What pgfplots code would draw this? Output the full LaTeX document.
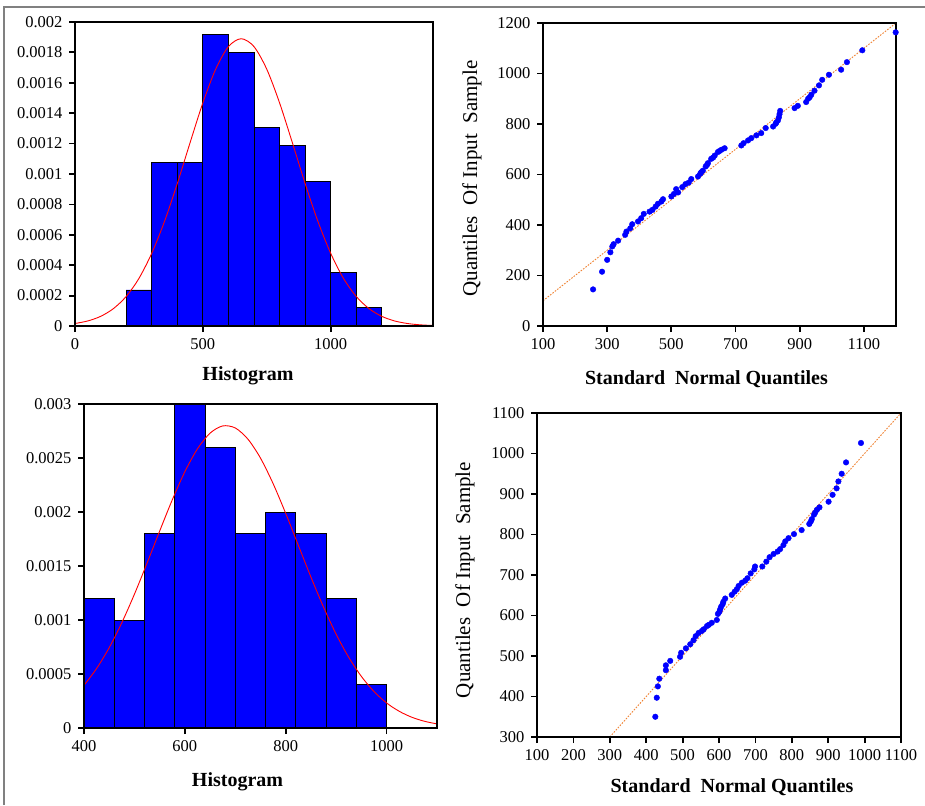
\documentclass[border=0pt]{standalone}
\usepackage{fontspec}
\setmainfont{Liberation Serif}
\usepackage{pgfplots}
\pgfplotsset{compat=1.18}

\definecolor{barblue}{RGB}{0,0,255}
\definecolor{fitred}{RGB}{255,0,0}
\definecolor{refline}{RGB}{240,130,50}

\pgfplotsset{
  panel/.style={
    scale only axis,
    axis on top,
    axis line style={black, line width=2.8pt},
    tick align=outside,
    xtick pos=left, ytick pos=left,
    major tick length=6pt,
    every tick/.append style={draw=black, line width=1.8pt},
    every major tick/.append style={draw=black, line width=1.8pt},
    tick label style={font=\fontsize{16.5}{16.5}\selectfont},
    xticklabel shift=3pt, yticklabel shift=3pt,
    /pgf/number format/assume math mode=true,
    /pgf/number format/1000 sep={},
  },
  histaxis/.style={
    panel,
    scaled y ticks=false,
    yticklabel style={/pgf/number format/fixed, /pgf/number format/precision=4},
  },
  xlab/.style 2 args={every axis x label/.style={at={(axis description cs:0.5,0)}, anchor=north,
      xshift=#1, yshift=#2, font=\fontsize{20}{20}\selectfont\bfseries}},
  ylab/.style 2 args={every axis y label/.style={at={(axis description cs:0,0.5)},
      xshift=#1, yshift=#2, rotate=90, anchor=south, font=\fontsize{21}{21}\selectfont}},
}

\begin{document}
\begin{tikzpicture}
\useasboundingbox (0,0) rectangle (925pt,-805pt);
\fill[white] (0,0) rectangle (925pt,-805pt);
\draw[gray, line width=1.2pt] (4pt,-805pt) -- (4pt,-7pt) -- (925pt,-7pt);

% top left: histogram 1
\begin{axis}[histaxis, at={(75pt,-22pt)}, anchor=north west,
    width=358pt, height=304pt,
    xmin=0, xmax=1400, ymin=0, ymax=0.002,
    xtick={0,500,1000},
    ytick={0,0.0002,0.0004,0.0006,0.0008,0.001,0.0012,0.0014,0.0016,0.0018,0.002},
    xlab={-6pt}{-37pt}, xlabel={Histogram}]
\addplot[ybar interval, fill=barblue, draw=black, line width=0.9pt] coordinates {
  (200,0.000237) (300,0.001073) (400,0.001073) (500,0.001917) (600,0.001798)
  (700,0.001308) (800,0.00119) (900,0.000953) (1000,0.000355) (1100,0.00012) (1200,0)};
\addplot[fitred, line width=0.9pt, smooth] coordinates {
  (0,0.0000164) (50,0.0000332) (100,0.0000633) (150,0.000114) (200,0.000194)
  (250,0.000313) (300,0.000478) (350,0.000688) (400,0.000937) (450,0.001206)
  (500,0.001468) (550,0.001689) (600,0.001838) (650,0.00189) (700,0.001838)
  (750,0.001689) (800,0.001468) (850,0.001206) (900,0.000937) (950,0.000688)
  (1000,0.000478) (1050,0.000313) (1100,0.000194) (1150,0.000114) (1200,0.0000633)
  (1250,0.0000332) (1300,0.0000164) (1350,0.0000077) (1400,0.0000034)};
\end{axis}

% top right: QQ plot 1
\begin{axis}[panel, at={(543pt,-23pt)}, anchor=north west,
    width=353pt, height=303pt,
    xmin=100, xmax=1200, ymin=0, ymax=1200,
    xtick={100,300,500,700,900,1100},
    ytick={0,200,400,600,800,1000,1200},
    xlab={-13pt}{-41pt}, xlabel={Standard\ \ Normal Quantiles},
    ylab={-58pt}{-4pt}, ylabel={Quantiles\ \ Of Input\ \ Sample}]
\addplot[refline, line width=0.9pt, dash pattern=on 1.6pt off 1.4pt] coordinates {(100,100) (1200,1200)};
\addplot[only marks, mark=*, mark size=2.8pt, color=barblue, line width=0.4pt] coordinates {
  (256,145) (284,215) (300,262) (310,292) (316,315) (320,324) (334,338) (356,361)
  (360,374) (372,387) (378,403) (396,414) (406,427) (414,444) (432,453) (441,460)
  (451,473) (458,484) (469,493) (474,502) (500,513) (508,523) (515,542) (521,529)
  (534,550) (544,562) (554,568) (562,582) (583,592) (590,603) (593,609) (598,615)
  (607,632) (611,638) (614,645) (624,662) (630,667) (635,675) (645,689) (650,693)
  (656,698) (666,704) (718,715) (725,724) (739,735) (749,744) (765,755) (780,764)
  (794,784) (817,790) (825,801) (827,806) (832,814) (835,826) (837,839) (839,852)
  (884,863) (894,872) (920,887) (926,900) (931,906) (936,916) (946,932) (960,953)
  (970,975) (991,995) (1029,1015) (1047,1045) (1095,1092) (1199,1163)};
\end{axis}

% bottom left: histogram 2
\begin{axis}[histaxis, at={(84pt,-404pt)}, anchor=north west,
    width=353pt, height=324pt,
    xmin=400, xmax=1100, ymin=0, ymax=0.003,
    xtick={400,600,800,1000},
    ytick={0,0.0005,0.001,0.0015,0.002,0.0025,0.003},
    xlab={-23pt}{-41pt}, xlabel={Histogram}]
\addplot[ybar interval, fill=barblue, draw=black, line width=0.9pt] coordinates {
  (400,0.0012) (460,0.001) (520,0.0018) (580,0.003) (640,0.0026)
  (700,0.0018) (760,0.002) (820,0.0018) (880,0.0012) (940,0.0004) (1000,0)};
\addplot[fitred, line width=0.9pt, smooth] coordinates {
  (400,0.000395) (425,0.000551) (450,0.000744) (475,0.000975) (500,0.001239)
  (525,0.001526) (550,0.001823) (575,0.002112) (600,0.002373) (625,0.002585)
  (650,0.00273) (675,0.002797) (700,0.002778) (725,0.002675) (750,0.002499)
  (775,0.002263) (800,0.001987) (825,0.001692) (850,0.001398) (875,0.001119)
  (900,0.000869) (925,0.000654) (950,0.000478) (975,0.000338) (1000,0.000232)
  (1025,0.000155) (1050,0.0000998) (1075,0.0000625) (1100,0.0000379)};
\end{axis}

% bottom right: QQ plot 2
\begin{axis}[panel, at={(537pt,-413pt)}, anchor=north west,
    width=364pt, height=324pt,
    xmin=100, xmax=1100, ymin=300, ymax=1100,
    xtick={100,200,300,400,500,600,700,800,900,1000,1100},
    ytick={300,400,500,600,700,800,900,1000,1100},
    xlab={13pt}{-38pt}, xlabel={Standard\ \ Normal Quantiles},
    ylab={-59pt}{-5pt}, ylabel={Quantiles\ \ Of Input\ \ Sample}]
\addplot[refline, line width=0.9pt, dash pattern=on 1.6pt off 1.4pt] coordinates {(300,300) (1100,1100)};
\addplot[only marks, mark=*, mark size=2.8pt, color=barblue, line width=0.4pt] coordinates {
  (425,350) (429,397) (432,425) (436,444) (454,465) (454,477) (466,488) (493,498)
  (496,508) (509,519) (521,529) (530,539) (536,549) (544,557) (553,562) (558,566)
  (567,574) (572,577) (580,582) (594,589) (597,604) (601,609) (603,615) (606,622)
  (610,628) (612,634) (617,642) (635,651) (643,659) (649,665) (654,673) (663,681)
  (672,686) (678,692) (687,704) (697,714) (699,721) (719,721) (730,733) (739,744)
  (750,752) (761,758) (768,764) (777,774) (782,783) (791,791) (806,801) (827,811)
  (848,826) (852,832) (855,838) (861,849) (864,854) (869,861) (876,867) (901,881)
  (912,898) (923,914) (928,931) (937,950) (949,978) (990,1026)};
\end{axis}
\end{tikzpicture}
\end{document}
